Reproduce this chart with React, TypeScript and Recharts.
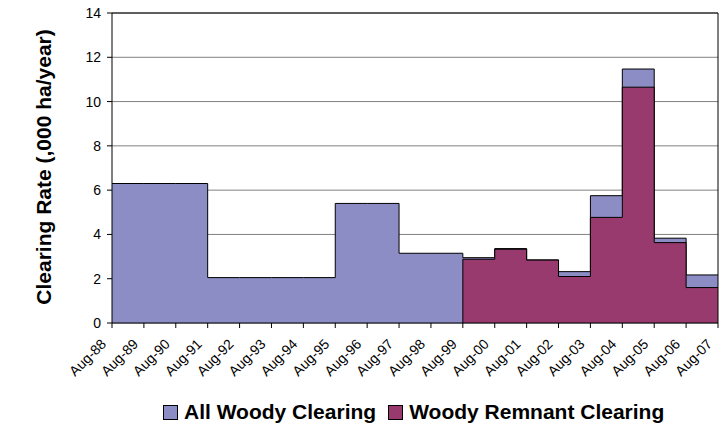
import React from "react";
import {Area, AreaChart, CartesianGrid, Legend, ReferenceLine, XAxis, YAxis} from "recharts";

const categories = [
    "Aug-88", "Aug-89", "Aug-90", "Aug-91", "Aug-92", "Aug-93", "Aug-94", "Aug-95", "Aug-96", "Aug-97",
    "Aug-98", "Aug-99", "Aug-00", "Aug-01", "Aug-02", "Aug-03", "Aug-04", "Aug-05", "Aug-06", "Aug-07",
];
// value for the period starting at each category (last repeats to close the step)
const allWoody = [6.3, 6.3, 6.3, 2.05, 2.05, 2.05, 2.05, 5.4, 5.4, 3.15, 3.15, 2.95, 3.36, 2.85, 2.32, 5.75, 11.47, 3.83, 2.17, 2.17];
const remnant = [null, null, null, null, null, null, null, null, null, null, null, 2.88, 3.33, 2.84, 2.1, 4.77, 10.65, 3.63, 1.6, 1.6];
const yTicks = [0, 2, 4, 6, 8, 10, 12, 14];
const yTitle = "Clearing Rate (,000 ha/year)";

const series = [
    {key: "all", name: "All Woody Clearing", color: "#8B8DC4"},
    {key: "remnant", name: "Woody Remnant Clearing", color: "#983A6D"},
];

const data = categories.map((name, i) => ({name, all: allWoody[i], remnant: remnant[i]}));
const remnantStart = remnant.findIndex(v => v !== null);

const FONT = "'Liberation Sans', Arial, sans-serif";

const XTick = ({x, y, payload}: any) => (
    <g transform={`translate(${x - 5},${y + 15})`}>
        <text textAnchor="end" transform="rotate(-45)" fontSize={14} fontFamily={FONT} fill="#000">
            {payload.value}
        </text>
    </g>
);

const LegendContent = () => (
    <div style={{display: "flex", alignItems: "center", paddingLeft: 163, fontFamily: FONT, fontSize: 21, fontWeight: "bold", color: "#000"}}>
        {series.map((s, i) => (
            <div key={s.key} style={{display: "flex", alignItems: "center", marginLeft: i ? 12 : 0}}>
                <span style={{width: 15, height: 15, boxSizing: "border-box", border: "1px solid #000", background: s.color, marginRight: 6}}/>
                <span style={{whiteSpace: "nowrap"}}>{s.name}</span>
            </div>
        ))}
    </div>
);

export default function App() {
    return (
        <div style={{position: "absolute", left: 0, top: 0, width: 725, height: 426, background: "#fff"}}>
            <AreaChart width={725} height={426} data={data} margin={{top: 13, right: 7, left: 0, bottom: 43}}>
                <CartesianGrid vertical={false} stroke="#808080"/>
                <XAxis dataKey="name" interval={0} height={60} tick={<XTick/>}
                       axisLine={{stroke: "#000"}} tickLine={{stroke: "#000"}} tickSize={5}/>
                <YAxis width={112} domain={[0, 14]} ticks={yTicks} interval={0}
                       axisLine={{stroke: "#000"}} tickLine={{stroke: "#000"}} tickSize={5} tickMargin={6}
                       tick={{fontSize: 14, fill: "#000", fontFamily: FONT}}/>
                {series.map(s => (
                    <Area key={s.key} type="stepAfter" dataKey={s.key} name={s.name} fill={s.color} fillOpacity={1}
                          stroke="#000" strokeWidth={1} isAnimationActive={false} dot={false} activeDot={false}/>
                ))}
                <ReferenceLine segment={[{x: categories[remnantStart], y: 0}, {x: categories[remnantStart], y: remnant[remnantStart]}]}
                               stroke="#000"/>
                <ReferenceLine y={14} stroke="#000"/>
                <ReferenceLine x={categories[categories.length - 1]} stroke="#000"/>
                <Legend layout="horizontal" verticalAlign="middle" align="center" content={<LegendContent/>}
                        wrapperStyle={{top: 400, left: 0, width: 725, height: 22}}/>
            </AreaChart>
            <div style={{
                position: "absolute", left: 44, top: 167, transform: "translate(-50%, -50%) rotate(-90deg)",
                whiteSpace: "nowrap", fontFamily: FONT, fontSize: 21, fontWeight: "bold", color: "#000", lineHeight: "24px",
            }}>
                {yTitle}
            </div>
        </div>
    );
}
